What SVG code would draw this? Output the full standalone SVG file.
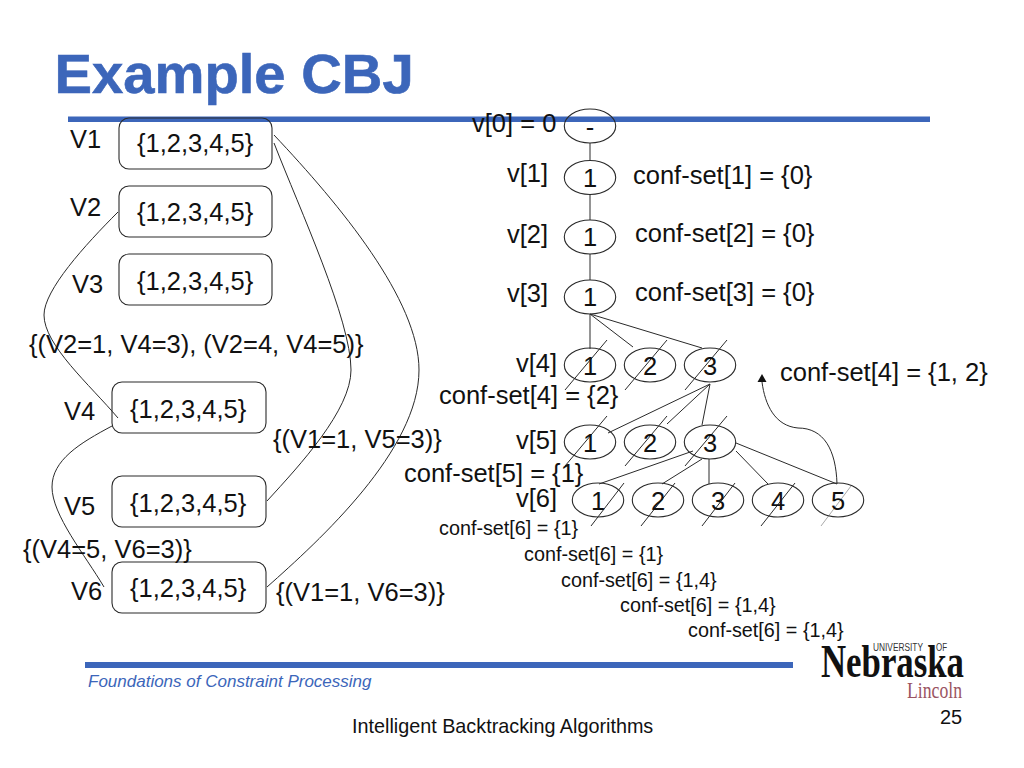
<svg xmlns="http://www.w3.org/2000/svg" width="1024" height="768" viewBox="0 0 1024 768">
<defs>
<marker id="ah" markerWidth="10" markerHeight="8" refX="5" refY="8" orient="0" markerUnits="userSpaceOnUse" viewBox="0 0 10 8"><path d="M5 0L9.500 8L0.500 8Z" fill="#111"/></marker>
</defs>
<style>
text{font-family:"Liberation Sans",Arial,sans-serif;fill:#111;font-size:25.500px}
.s{font-size:19.800px}
.m{text-anchor:middle}
.box{fill:none;stroke:#2a2a2a;stroke-width:1.100}
.el{fill:none;stroke:#2a2a2a;stroke-width:1.100}
.c{fill:none;stroke:#2a2a2a;stroke-width:1}
.rule{fill:#3c66ba}
</style>
<rect class="rule" x="68" y="116.500" width="862" height="5.500"/>
<rect class="rule" x="85" y="662" width="708" height="6"/>
<text id="title" x="54.500" y="93" style="font-size:56.200px;font-weight:bold;fill:#3c66ba;stroke:#3c66ba;stroke-width:0.600">Example CBJ</text>
<g id="connectors">
<path class="c" d="M274 135C340 205 419 300 419 370C419 450 320 540 267 587"/>
<path class="c" d="M274 143C300 210 351 320 351 370C351 410 300 465 267 501"/>
<path class="c" d="M118 212C85 245 44 290 44 315C44 345 90 385 118 418"/>
<path class="c" d="M112 426C80 443 52 460 52 487C52 515 85 555 104 587"/>
<path class="c" d="M590 143V160M590 195V220M590 254V280M590 314V349M590 314L633 347M590 314L702 348"/>
<path class="c" d="M710 384L608 433M710 384L667 424M710 384L702 425"/>
<path class="c" d="M693 451L599 484M702 459L662 484M709 459V484M736 451L768 484M736 443L837 484"/>
<path class="c" d="M565 390L607 340M625 390L667 340M685 390L727 340M565 466L607 416M625 466L667 416M685 466L727 416M591 526L624 483M641 526L675 483M702 526L735 483M761 526L795 483"/>
<path d="M821 526L851 486" fill="none" stroke="#aaa" stroke-width="1"/>
<path class="c" d="M837 484C836 450 824 428 798 428C775 426 765 405 762 382" marker-end="url(#ah)"/>
</g>
<g id="V1"><rect class="box" x="119" y="118" width="153" height="51" rx="10"/><text x="137" y="152">{1,2,3,4,5}</text><text x="70" y="148">V1</text></g>
<g id="V2"><rect class="box" x="119" y="186" width="153" height="51" rx="10"/><text x="137" y="221">{1,2,3,4,5}</text><text x="70" y="216">V2</text></g>
<g id="V3"><rect class="box" x="119" y="254" width="153" height="51" rx="10"/><text x="137" y="290">{1,2,3,4,5}</text><text x="72" y="293">V3</text></g>
<g id="V4"><rect class="box" x="112" y="382" width="154" height="51" rx="10"/><text x="130" y="418">{1,2,3,4,5}</text><text x="64" y="420">V4</text></g>
<g id="V5"><rect class="box" x="112" y="476" width="154" height="51" rx="10"/><text x="130" y="512">{1,2,3,4,5}</text><text x="64" y="515">V5</text></g>
<g id="V6"><rect class="box" x="112" y="562" width="154" height="51" rx="10"/><text x="130" y="597">{1,2,3,4,5}</text><text x="71" y="600">V6</text></g>
<g id="constraints">
<text x="29" y="353">{(V2=1, V4=3), (V2=4, V4=5)}</text>
<text x="273" y="448">{(V1=1, V5=3)}</text>
<text x="23" y="558">{(V4=5, V6=3)}</text>
<text x="276" y="601">{(V1=1, V6=3)}</text>
</g>
<g id="n0"><ellipse class="el" cx="590" cy="126" rx="25.700" ry="17"/><text class="m" x="590" y="136">-</text></g>
<g id="n1"><ellipse class="el" cx="590" cy="177.500" rx="25.700" ry="17"/><text class="m" x="590" y="187">1</text></g>
<g id="n2"><ellipse class="el" cx="590" cy="237" rx="25.700" ry="17"/><text class="m" x="590" y="246">1</text></g>
<g id="n3"><ellipse class="el" cx="590" cy="297" rx="25.700" ry="17"/><text class="m" x="590" y="306">1</text></g>
<g id="n4-1"><ellipse class="el" cx="590" cy="365" rx="25.700" ry="17"/><text class="m" x="590" y="375">1</text></g>
<g id="n4-2"><ellipse class="el" cx="650" cy="365" rx="25.700" ry="17"/><text class="m" x="650" y="375">2</text></g>
<g id="n4-3"><ellipse class="el" cx="710" cy="365" rx="25.700" ry="17"/><text class="m" x="710" y="375">3</text></g>
<g id="n5-1"><ellipse class="el" cx="590" cy="442" rx="25.700" ry="17"/><text class="m" x="590" y="452">1</text></g>
<g id="n5-2"><ellipse class="el" cx="650" cy="442" rx="25.700" ry="17"/><text class="m" x="650" y="452">2</text></g>
<g id="n5-3"><ellipse class="el" cx="710" cy="442" rx="25.700" ry="17"/><text class="m" x="710" y="452">3</text></g>
<g id="n6-1"><ellipse class="el" cx="598" cy="500" rx="25.700" ry="17"/><text class="m" x="598" y="510">1</text></g>
<g id="n6-2"><ellipse class="el" cx="658" cy="500" rx="25.700" ry="17"/><text class="m" x="658" y="510">2</text></g>
<g id="n6-3"><ellipse class="el" cx="718" cy="500" rx="25.700" ry="17"/><text class="m" x="718" y="510">3</text></g>
<g id="n6-4"><ellipse class="el" cx="778" cy="500" rx="25.700" ry="17"/><text class="m" x="778" y="510">4</text></g>
<g id="n6-5"><ellipse class="el" cx="838" cy="500" rx="25.700" ry="17"/><text class="m" x="838" y="510">5</text></g>
<g id="labels">
<text x="472" y="132">v[0] = 0</text>
<text x="507" y="182">v[1]</text>
<text x="507" y="243">v[2]</text>
<text x="507" y="302">v[3]</text>
<text x="516" y="372">v[4]</text>
<text x="516" y="449">v[5]</text>
<text x="516" y="507">v[6]</text>
<text x="633" y="184">conf-set[1] = {0}</text>
<text x="635" y="242">conf-set[2] = {0}</text>
<text x="635" y="301">conf-set[3] = {0}</text>
<text x="439" y="404">conf-set[4] = {2}</text>
<text x="780" y="381">conf-set[4] = {1, 2}</text>
<text x="404" y="482">conf-set[5] = {1}</text>
<text class="s" x="439" y="535">conf-set[6] = {1}</text>
<text class="s" x="524" y="561">conf-set[6] = {1}</text>
<text class="s" x="561" y="587">conf-set[6] = {1,4}</text>
<text class="s" x="620" y="612">conf-set[6] = {1,4}</text>
<text class="s" x="688" y="637">conf-set[6] = {1,4}</text>
</g>
<g id="footer">
<text x="88" y="687" style="font-size:17px;font-style:italic;fill:#3c66ba">Foundations of Constraint Processing</text>
<text class="s" x="352" y="733">Intelligent Backtracking Algorithms</text>
<text x="940" y="724" style="font-size:20px">25</text>
</g>
<g id="logo">
<text x="821" y="677" textLength="143" lengthAdjust="spacingAndGlyphs" style="font-family:'Liberation Serif',serif;font-size:47px;font-weight:bold;fill:#111">Nebraska</text>
<text y="651" style="font-size:10px;fill:#333"><tspan x="873" textLength="50" lengthAdjust="spacingAndGlyphs">UNIVERSITY</tspan><tspan x="936" textLength="11" lengthAdjust="spacingAndGlyphs">OF</tspan></text>
<text x="907" y="698" textLength="55" lengthAdjust="spacingAndGlyphs" style="font-family:'Liberation Serif',serif;font-size:24px;fill:#9a5462">Lincoln</text>
</g>
</svg>
